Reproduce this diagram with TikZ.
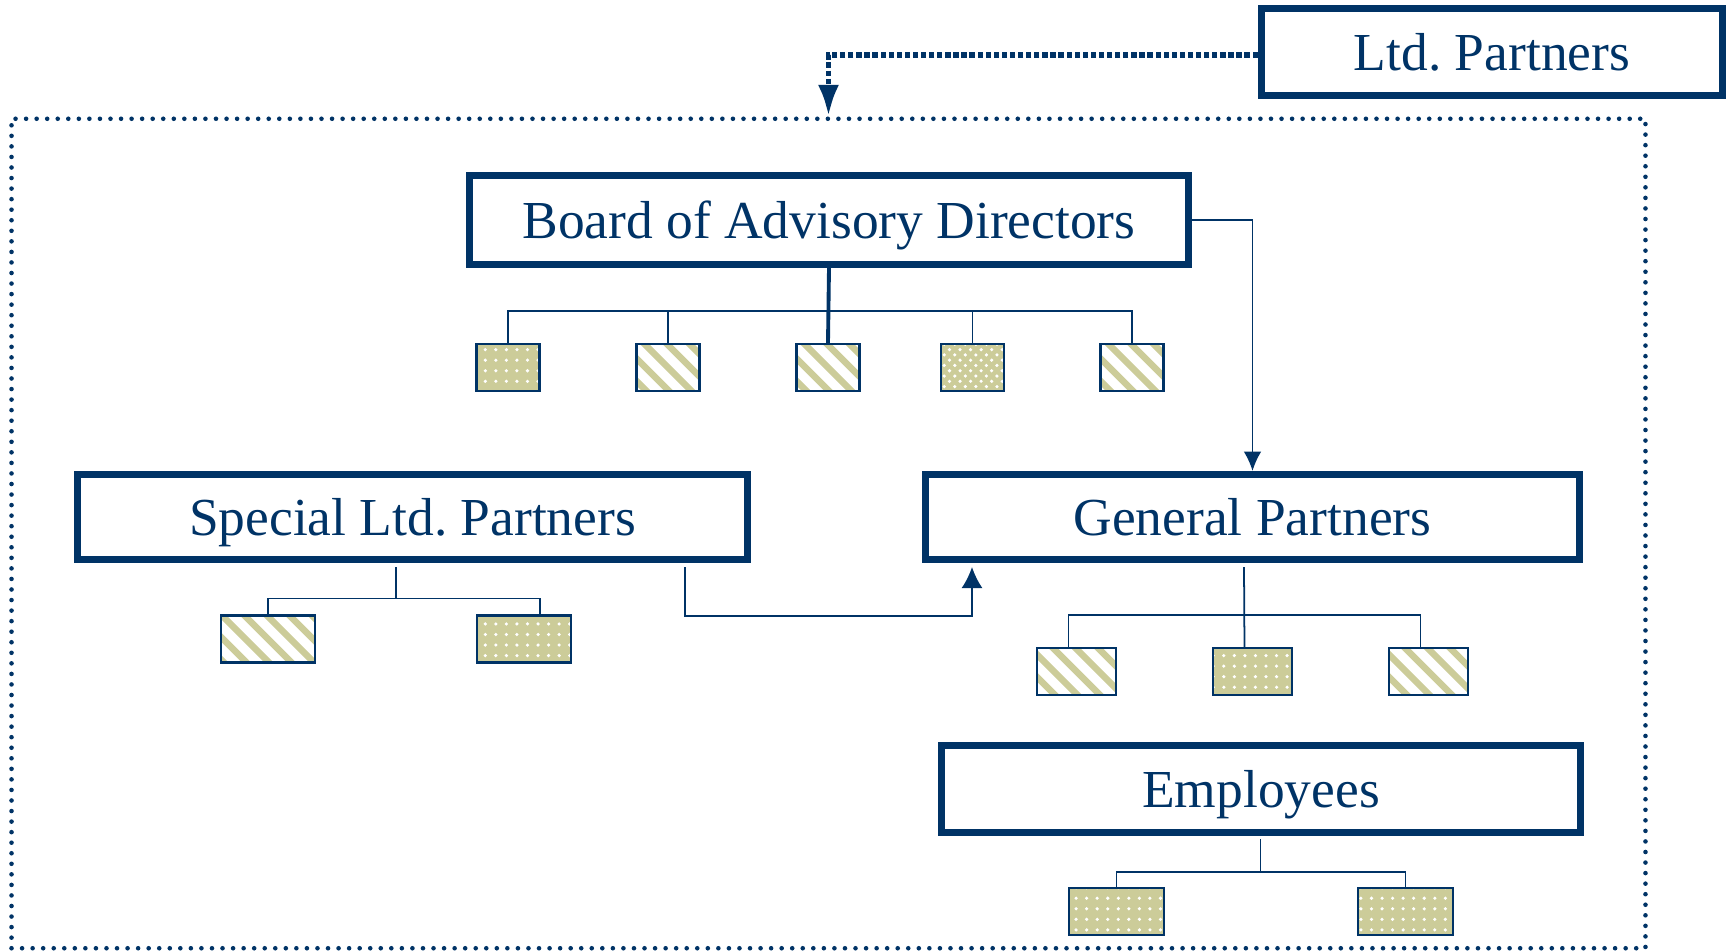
\documentclass[tikz,border=0pt]{standalone}
\usepackage{fontspec}
\setmainfont{Liberation Serif}
\usetikzlibrary{arrows.meta, patterns}

\definecolor{navy}{RGB}{0,51,102}
\definecolor{sage}{RGB}{204,204,153}

\begin{document}
\begin{tikzpicture}[x=0.01cm, y=-0.01cm, >=Latex,
  unit/.style={draw=navy, line width=2pt, inner sep=0pt, text=navy, text depth=0pt, font=\fontsize{15.2}{18}\selectfont},
  kid/.style={draw=navy, line width=0.6pt, inner sep=0pt, minimum height=0.47cm},
  dotbox/.style={kid, preaction={fill=sage}, pattern=dots, pattern color=white},
  finedotbox/.style={kid, preaction={fill=sage}, pattern=crosshatch dots, pattern color=white},
  stripebox/.style={kid, fill=white, path picture={
    \foreach \k in {-7,...,7}
      \draw[sage, line width=1.9pt] ([xshift=\k*6.4pt]path picture bounding box.center) ++(-30pt,30pt) -- ++(60pt,-60pt);}},
  wire/.style={draw=navy, line width=0.5pt},
  stem/.style={draw=navy, line width=1.1pt},
  link/.style={->, draw=navy, line width=0.5pt, >={Latex[length=5.5pt,width=5pt]}},
  bigtip/.style={>={Latex[length=6pt,width=6pt]}},
  feed/.style={->, draw=navy, line width=1.6pt, dash pattern=on 1.5pt off 0.8pt, >={Latex[length=9pt,width=6pt]}},
  firmframe/.style={draw=navy, line width=1.3pt, dash pattern=on 0pt off 3pt, line cap=round, inner sep=0pt}]

  \useasboundingbox (0,0) rectangle (1732,951);

  % dotted frame round the firm
  \node[firmframe, minimum width=16.33cm, minimum height=8.29cm] (firm) at (828.5,533.5) {};

  \node[unit, minimum width=4.61cm, minimum height=0.87cm] (ltd) at (1492,52) {Ltd.\ Partners};
  \node[unit, minimum width=7.19cm, minimum height=0.89cm] (board) at (829,220) {Board of Advisory Directors};
  \node[unit, minimum width=6.70cm, minimum height=0.85cm] (special) at (412.5,517) {Special Ltd.\ Partners};
  \node[unit, minimum width=6.54cm, minimum height=0.85cm] (general) at (1252.5,517) {General Partners};
  \node[unit, minimum width=6.39cm, minimum height=0.87cm] (emp) at (1261,789) {Employees};

  % members under each group
  \foreach \x/\look [count=\i] in {508/dotbox, 668/stripebox, 828/stripebox, 972.5/finedotbox, 1132/stripebox}
    \node[\look, minimum width=0.63cm] (b-\i) at (\x,367.5) {};
  \node[stripebox, minimum width=0.94cm] (s-1) at (268,639) {};
  \node[dotbox, minimum width=0.94cm] (s-2) at (524,639) {};
  \foreach \x/\look [count=\i] in {1076.5/stripebox, 1252.5/dotbox, 1428.5/stripebox}
    \node[\look, minimum width=0.79cm] (g-\i) at (\x,671.5) {};
  \foreach \x [count=\i] in {1116.5, 1405.5}
    \node[dotbox, minimum width=0.95cm] (e-\i) at (\x,911.5) {};

  \coordinate (s-hub) at (396,567);
  \coordinate (g-hub) at (1244,567);
  \coordinate (e-hub) at (1260.5,839);
  \coordinate (s-out) at (685,567);
  \coordinate (g-in) at (972,567);

  % trees
  \draw[stem] (board.south) -- (b-3.north);
  \draw[wire] (b-1.north) -- ++(0,-32) -| (b-5.north);
  \foreach \i in {2,4}
    \draw[wire] (b-\i.north) -- ++(0,-32);

  \draw[wire] (s-hub) -- ++(0,32);
  \draw[wire] (s-1.north) -- ++(0,-16) -| ([xshift=0.16cm]s-2.north);

  \draw[wire] (g-hub) -- ([xshift=-0.08cm]g-2.north);
  \draw[wire] ([xshift=-0.08cm]g-1.north) -- ++(0,-32) -| ([xshift=-0.08cm]g-3.north);

  \draw[wire] (e-hub) -- ++(0,33);
  \draw[wire] (e-1.north) -- ++(0,-15) -| (e-2.north);

  % reporting lines
  \draw[link] (board.east) -| (general.north);
  \draw[link, bigtip] (s-out) -- ++(0,49) -| (g-in);
  \draw[feed] ([yshift=-0.03cm]ltd.west) -| (firm.north);

\end{tikzpicture}
\end{document}
